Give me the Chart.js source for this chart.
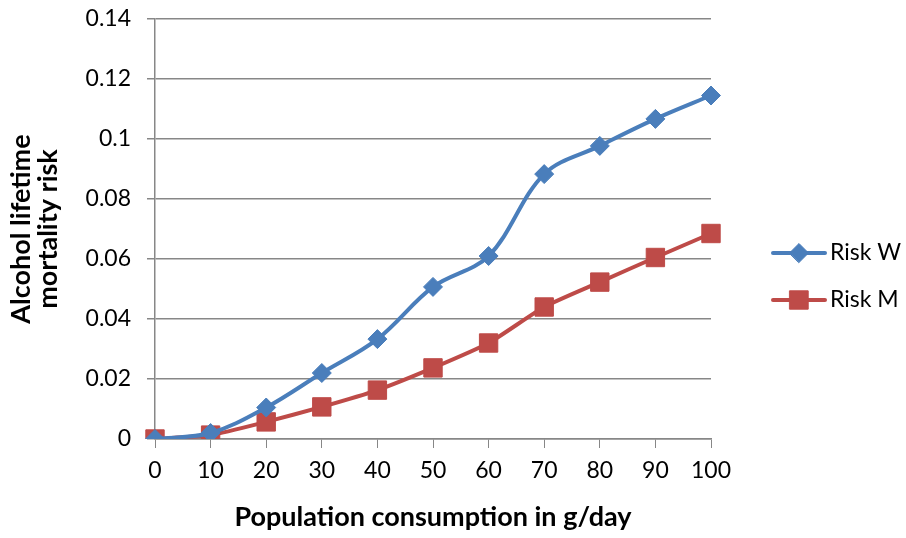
<!DOCTYPE html>
<html>
<head>
<meta charset="utf-8">
<script src="https://cdn.jsdelivr.net/npm/chart.js@4.4.1/dist/chart.umd.min.js"></script>
<style>
html,body{margin:0;padding:0;background:#fff;}
#wrap{width:906px;height:538px;position:relative;}
</style>
</head>
<body>
<div id="wrap"><canvas id="c" width="906" height="538"></canvas></div>
<script>
const categories = ['0','10','20','30','40','50','60','70','80','90','100'];
const riskW = [0, 0.002, 0.0105, 0.022, 0.0333, 0.0507, 0.061, 0.0883, 0.0977, 0.1067, 0.1145];
const riskM = [0, 0.0013, 0.0057, 0.0107, 0.0163, 0.0237, 0.032, 0.044, 0.0523, 0.0605, 0.0685];
const yTicks = [0, 0.02, 0.04, 0.06, 0.08, 0.1, 0.12, 0.14];
const seriesNames = ['Risk W', 'Risk M'];

const FONT = 'Lato, "Open Sans", sans-serif';
const GRID = '#878787';
const BLUE = '#4A7EBB';
const RED = '#BE4B48';

const legendPlugin = {
  id: 'sideLegend',
  afterDraw(chart) {
    const ctx = chart.ctx;
    const rows = [253, 300];
    chart.data.datasets.forEach((ds, i) => {
      const y = rows[i];
      ctx.save();
      ctx.strokeStyle = ds.borderColor;
      ctx.lineWidth = 4;
      ctx.lineCap = 'round';
      ctx.beginPath();
      ctx.moveTo(773, y);
      ctx.lineTo(825, y);
      ctx.stroke();
      ctx.fillStyle = ds.pointBackgroundColor;
      ctx.strokeStyle = ds.pointBorderColor;
      ctx.lineWidth = 1;
      Chart.helpers.drawPoint(ctx, {
        pointStyle: ds.pointStyle,
        radius: ds.pointRadius,
        borderWidth: 1
      }, 799, y);
      ctx.fillStyle = '#000';
      ctx.font = '23px ' + FONT;
      ctx.textBaseline = 'middle';
      ctx.textAlign = 'left';
      ctx.fillText(ds.label, 830, y);
      ctx.restore();
    });
  }
};

const ctx = document.getElementById('c').getContext('2d');
new Chart(ctx, {
  type: 'line',
  data: {
    labels: categories,
    datasets: [
      {
        label: seriesNames[0],
        data: riskW,
        borderColor: BLUE,
        backgroundColor: BLUE,
        pointBackgroundColor: BLUE,
        pointBorderColor: BLUE,
        borderWidth: 4,
        pointStyle: 'rectRot',
        pointRadius: 9.5,
        pointBorderWidth: 1,
        tension: 0.35
      },
      {
        label: seriesNames[1],
        data: riskM,
        borderColor: RED,
        backgroundColor: RED,
        pointBackgroundColor: RED,
        pointBorderColor: RED,
        borderWidth: 4,
        pointStyle: 'rect',
        pointRadius: 13,
        pointBorderWidth: 1,
        tension: 0.2
      }
    ]
  },
  options: {
    responsive: false,
    animation: false,
    devicePixelRatio: 1,
    layout: { padding: { top: 19, right: 195, bottom: 0, left: 0 } },
    plugins: {
      legend: { display: false },
      tooltip: { enabled: false },
      title: { display: false }
    },
    scales: {
      x: {
        type: 'category',
        offset: false,
        grid: {
          display: true,
          drawOnChartArea: false,
          drawTicks: true,
          tickLength: 9,
          color: GRID,
          lineWidth: 1
        },
        border: { display: true, color: GRID, width: 1.5 },
        ticks: {
          color: '#000',
          font: { family: FONT, size: 23 },
          padding: 9,
          maxRotation: 0,
          autoSkip: false
        },
        title: {
          display: true,
          text: 'Population consumption in g/day',
          color: '#000',
          font: { family: FONT, size: 27, weight: 'bold' },
          padding: { top: 0, bottom: 5 }
        },
        afterFit(scale) { scale.height = 538 - 439; }
      },
      y: {
        min: 0,
        max: 0.14,
        afterBuildTicks(scale) { scale.ticks = yTicks.map(v => ({ value: v })); },
        grid: {
          color: GRID,
          lineWidth: 1.5,
          tickLength: 8
        },
        border: { display: true, color: GRID, width: 1.5 },
        ticks: {
          color: '#000',
          font: { family: FONT, size: 23, lineHeight: 0.2 },
          padding: 16,
          callback: v => String(Math.round(v * 100) / 100)
        },
        title: {
          display: true,
          text: ['Alcohol lifetime', 'mortality risk'],
          color: '#000',
          font: { family: FONT, size: 27, weight: 'bold', lineHeight: 1.0 },
          padding: { top: 8, bottom: 0 }
        },
        afterFit(scale) { scale.width = 155; }
      }
    }
  },
  plugins: [legendPlugin]
});
</script>
</body>
</html>
